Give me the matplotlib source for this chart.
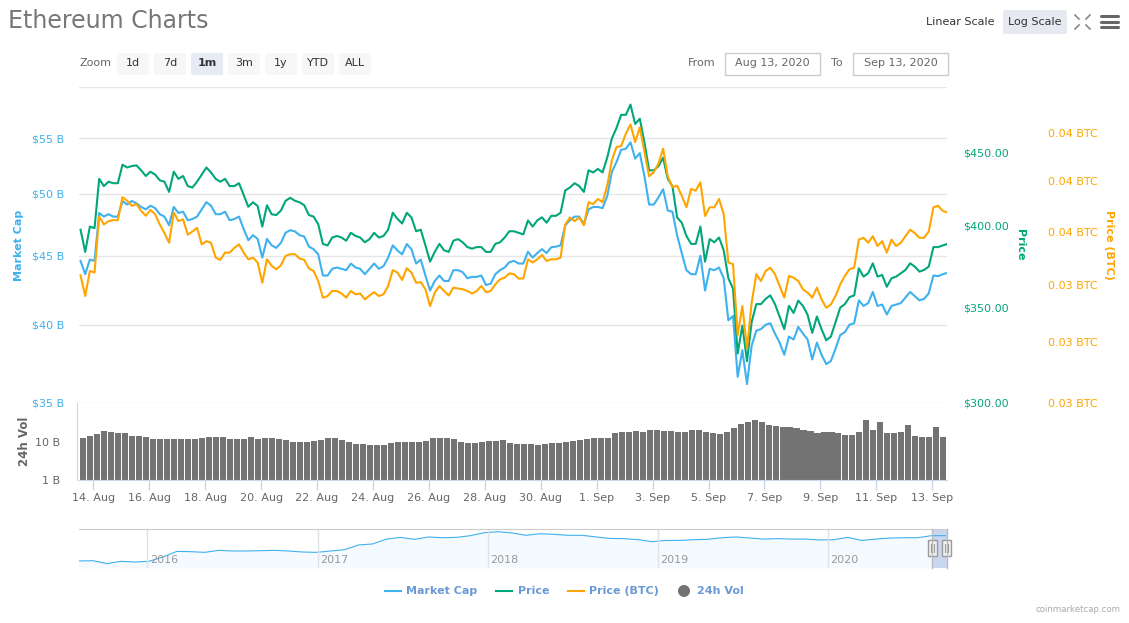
import pandas as pd
from matplotlib import pyplot as plt
from matplotlib.patches import Circle, FancyBboxPatch, Rectangle
from matplotlib.ticker import NullLocator

W, H = 1129, 623

market_cap = [
    44.6, 43.6, 44.7, 44.6, 48.4, 48.1, 48.3, 48.1, 48.1, 49.4,
    49.1, 49.4, 49.2, 48.9, 48.7, 49.0, 48.8, 48.3, 48.1, 47.4,
    48.9, 48.4, 48.5, 47.8, 47.9, 48.1, 48.7, 49.3, 49.0, 48.3,
    48.3, 48.5, 47.8, 47.9, 48.1, 47.1, 46.2, 46.6, 46.3, 44.85,
    46.3, 45.8, 45.6, 46.0, 46.8, 47.0, 46.9, 46.6, 46.5, 45.7,
    45.5, 45.1, 43.5, 43.5, 44.0, 44.1, 44.0, 43.9, 44.4, 44.1,
    44.0, 43.6, 44.0, 44.4, 44.0, 44.2, 44.85, 45.8, 45.4, 45.1,
    45.9, 45.5, 44.4, 44.7, 43.5, 42.4, 43.1, 43.5, 43.1, 43.1,
    43.9, 43.9, 43.75, 43.3, 43.4, 43.4, 43.5, 42.8, 42.9, 43.6,
    43.9, 44.1, 44.5, 44.6, 44.4, 44.4, 45.3, 44.85, 45.2, 45.5,
    45.2, 45.65, 45.7, 45.8, 47.4, 47.8, 48.1, 48.1, 47.5, 48.7,
    48.9, 48.9, 48.8, 49.8, 51.9, 52.8, 53.9, 54.0, 54.6, 53.1,
    53.6, 51.5, 49.1, 49.1, 49.7, 50.4, 48.6, 48.5, 46.6, 45.2,
    43.9, 43.6, 43.6, 45.0, 42.4, 44.0, 43.9, 44.1, 43.3, 40.3,
    40.6, 36.6, 38.3, 36.15, 38.6, 39.6, 39.7, 40.0, 40.1, 39.4,
    38.8, 38.0, 39.2, 39.0, 39.85, 39.4, 39.0, 37.7, 38.8, 38.0,
    37.4, 37.6, 38.4, 39.3, 39.5, 40.0, 40.1, 41.7, 41.3, 41.5,
    42.3, 41.3, 41.4, 40.7, 41.3, 41.4, 41.5, 41.9, 42.3, 42.0,
    41.7, 41.8, 42.2, 43.5, 43.45, 43.6, 43.7,
]
price = [
    397, 383, 399, 398, 431, 426, 429, 428, 428, 441,
    439, 440, 440.5, 437, 433, 436, 434, 430, 429, 422,
    436, 431, 433, 426, 425, 429, 434, 439, 435.5, 431,
    429, 431, 426, 426, 428, 420, 412, 415, 412.5, 399,
    413, 407, 406.5, 409.5, 416, 418, 416, 415, 413, 406.5,
    405.5, 400.5, 388, 387, 392, 393, 392, 390, 395, 393,
    392, 389, 391, 395, 392, 393, 397, 408, 404, 401,
    408, 405, 396, 397, 387, 377, 383, 388, 384, 383,
    390, 391, 389, 386, 385, 386, 386, 383, 383, 388,
    389, 392, 396, 396, 395, 394, 403, 399, 403, 405,
    401.5, 406, 406, 408, 423, 425, 428, 426, 422, 437,
    435.5, 438, 435.5, 446, 460, 468, 478, 478, 486, 471,
    475, 457, 437, 437, 440, 446, 431, 426, 405, 401.5,
    393, 388, 388, 399, 377, 391, 389, 392, 384, 367,
    361, 325, 340, 321, 342, 352, 352, 355, 357, 352,
    345, 338, 351, 347, 354, 351, 346, 336, 345, 338,
    332, 334, 342, 350, 352, 356, 357, 373, 368, 370,
    376, 368, 369, 362, 367, 368, 370, 372, 376, 374,
    371, 372, 374, 386, 386, 387, 388,
]
price_btc = [
    0.03437, 0.03362, 0.03453, 0.03447, 0.03659, 0.03628, 0.03641, 0.03645, 0.03645, 0.03735,
    0.03721, 0.03701, 0.03708, 0.03681, 0.03662, 0.03685, 0.03668, 0.03628, 0.03595, 0.03558,
    0.03675, 0.03641, 0.03648, 0.03589, 0.03601, 0.03615, 0.03552, 0.03564, 0.03558, 0.03502,
    0.03494, 0.03521, 0.03521, 0.03539, 0.03552, 0.03521, 0.03496, 0.03502, 0.03484, 0.03410,
    0.03496, 0.03472, 0.03459, 0.03474, 0.03509, 0.03515, 0.03515, 0.03499, 0.03494, 0.03462,
    0.03453, 0.03416, 0.03356, 0.03362, 0.03380, 0.03380, 0.03371, 0.03356, 0.03380, 0.03368,
    0.03371, 0.03350, 0.03364, 0.03376, 0.03362, 0.03368, 0.03398, 0.03456, 0.03447, 0.03420,
    0.03463, 0.03447, 0.03410, 0.03412, 0.03386, 0.03326, 0.03374, 0.03398, 0.03380, 0.03364,
    0.03392, 0.03389, 0.03386, 0.03380, 0.03371, 0.03380, 0.03398, 0.03376, 0.03380, 0.03404,
    0.03422, 0.03428, 0.03444, 0.03441, 0.03425, 0.03425, 0.03496, 0.03484, 0.03496, 0.03512,
    0.03490, 0.03496, 0.03496, 0.03502, 0.03628, 0.03655, 0.03641, 0.03655, 0.03625, 0.03715,
    0.03708, 0.03728, 0.03715, 0.03781, 0.03885, 0.03940, 0.03944, 0.03996, 0.04036, 0.03961,
    0.04023, 0.03920, 0.03819, 0.03836, 0.03871, 0.03933, 0.03819, 0.03775, 0.03781, 0.03741,
    0.03695, 0.03768, 0.03761, 0.03795, 0.03661, 0.03695, 0.03695, 0.03728, 0.03668, 0.03484,
    0.03478, 0.03225, 0.03326, 0.03180, 0.03338, 0.03441, 0.03416, 0.03453, 0.03465, 0.03441,
    0.03398, 0.03356, 0.03435, 0.03428, 0.03416, 0.03386, 0.03374, 0.03356, 0.03392, 0.03350,
    0.03320, 0.03332, 0.03362, 0.03404, 0.03435, 0.03459, 0.03465, 0.03570, 0.03577, 0.03558,
    0.03583, 0.03546, 0.03564, 0.03521, 0.03570, 0.03546, 0.03558, 0.03583, 0.03608, 0.03595,
    0.03577, 0.03577, 0.03601, 0.03695, 0.03701, 0.03681, 0.03675,
]
volume = [
    12.6, 13.9, 15.4, 18.7, 18.0, 16.6, 17.0, 13.9, 13.9, 13.1,
    11.9, 11.6, 11.4, 11.6, 11.6, 11.6, 11.4, 12.6, 12.8, 13.1,
    13.1, 11.9, 11.6, 11.6, 12.8, 11.6, 12.6, 12.6, 11.6, 11.2,
    9.9, 9.7, 9.7, 10.1, 10.9, 12.3, 12.1, 10.9, 9.9, 8.8,
    8.5, 8.1, 8.1, 8.1, 9.0, 9.7, 9.7, 9.9, 9.9, 10.5,
    12.3, 12.6, 12.3, 11.4, 9.7, 9.3, 9.1, 9.5, 10.3, 10.3,
    10.7, 9.1, 8.6, 8.6, 8.6, 8.3, 8.5, 9.0, 9.1, 9.9,
    10.5, 10.9, 11.9, 12.1, 12.1, 12.6, 16.3, 17.3, 18.0, 18.7,
    18.0, 19.5, 19.5, 18.7, 18.3, 17.7, 18.0, 19.5, 19.5, 17.7,
    17.0, 15.7, 17.3, 22.4, 28.5, 31.5, 35.5, 32.7, 26.9, 25.8,
    24.3, 23.3, 22.0, 20.3, 19.1, 16.6, 17.3, 17.7, 16.6, 14.8,
    14.8, 18.0, 36.2, 19.9, 31.5, 17.0, 17.0, 17.3, 26.9, 14.2,
    13.1, 13.4, 23.3, 13.1,
]
overview_cap = [
    0.089, 0.095, 0.047, 0.082, 0.069, 0.082, 0.234, 0.91, 0.85, 0.72,
    1.17, 1.0, 1.0, 1.08, 1.17, 1.0, 0.78, 0.72, 1.0, 1.38,
    4.3, 5.5, 18, 27, 17, 30, 25, 27, 41, 85,
    107, 78, 45, 66, 56, 45, 45, 30, 21, 20,
    15.5, 9.6, 13, 13, 15.5, 17, 25, 30, 23, 18,
    20, 18, 18, 14.5, 15.5, 27, 13, 18, 23, 25,
    25, 41, 41,
]

cap_ticks = [35, 40, 45, 50, 55, 60]
cap_labels = ["$35 B", "$40 B", "$45 B", "$50 B", "$55 B", ""]
price_ticks = [300, 350, 400, 450]
price_labels = ["$300.00", "$350.00", "$400.00", "$450.00"]
btc_ticks = [0.030, 0.032, 0.034, 0.036, 0.038, 0.040]
btc_labels = ["0.03 BTC", "0.03 BTC", "0.03 BTC", "0.04 BTC", "0.04 BTC", "0.04 BTC"]
vol_ticks = [1, 10]
vol_labels = ["1 B", "10 B"]
date_ticks = pd.to_datetime([
    "2020-08-14", "2020-08-16", "2020-08-18", "2020-08-20", "2020-08-22", "2020-08-24",
    "2020-08-26", "2020-08-28", "2020-08-30", "2020-09-01", "2020-09-03", "2020-09-05",
    "2020-09-07", "2020-09-09", "2020-09-11", "2020-09-13",
])
date_labels = ["14. Aug", "16. Aug", "18. Aug", "20. Aug", "22. Aug", "24. Aug",
               "26. Aug", "28. Aug", "30. Aug", "1. Sep", "3. Sep", "5. Sep",
               "7. Sep", "9. Sep", "11. Sep", "13. Sep"]
years = [2016, 2017, 2018, 2019, 2020]
zoom_buttons = ["1d", "7d", "1m", "3m", "1y", "YTD", "ALL"]

CAP = "#3eb1ee"
PRICE = "#01a67a"
BTC = "#ffa500"
GRID = "#e6e6e6"
AXIS = "#ccd6eb"
TEXT = "#666666"
LEGEND = "#6a9ad6"

plt.rcParams["font.family"] = ["DejaVu Sans"]

line_times = pd.date_range("2020-08-13 13:00", periods=len(market_cap), freq="4h")
bar_times = pd.date_range("2020-08-13 15:30", periods=len(volume), freq="6h")
overview_times = pd.date_range("2015-08-08", periods=len(overview_cap), freq="30D")
x_start = pd.Timestamp("2020-08-13 11:40")
x_end = pd.Timestamp("2020-09-13 13:00")


def add_axes(fig, left, top, right, bottom):
    return fig.add_axes([left / W, 1 - bottom / H, (right - left) / W, (bottom - top) / H])


fig = plt.figure(figsize=(W / 100, H / 100), dpi=100)

# main panel, three log axes on top of each other
ax = add_axes(fig, 79, 87, 947.4, 403)
ax2 = ax.twinx()
ax3 = ax.twinx()
ax.plot(line_times, market_cap, c=CAP, lw=1.5, zorder=3)
ax2.plot(line_times, price, c=PRICE, lw=1.5, zorder=3)
ax3.plot(line_times, price_btc, c=BTC, lw=1.5, zorder=3)

for a, lo, hi, ticks, labels, color, pad in [
    (ax, 35, 60, cap_ticks, cap_labels, CAP, 10.8),
    (ax2, 300, 500, price_ticks, price_labels, PRICE, 11.2),
    (ax3, 0.03, 0.042, btc_ticks, btc_labels, BTC, 72.4),
]:
    a.set_yscale("log")
    a.set_ylim(lo, hi)
    a.set_yticks(ticks)
    a.set_yticklabels(labels)
    a.yaxis.set_minor_locator(NullLocator())
    a.tick_params(axis="y", length=0, pad=pad, labelsize=8, labelcolor=color)
    a.patch.set_visible(False)
    for s in a.spines.values():
        s.set_visible(False)
ax.set_xlim(x_start, x_end)
ax.set_xticks([])
ax.grid(axis="y", color=GRID, lw=1)
ax.set_axisbelow(True)

# volume panel
vol = add_axes(fig, 79, 403, 947.4, 480)
vol.bar(bar_times, volume, width=5.2 / 24, color="#737373", log=True)
vol.set_yscale("log")
vol.set_ylim(1, 100)
vol.set_xlim(x_start, x_end)
vol.set_yticks(vol_ticks)
vol.set_yticklabels(vol_labels)
vol.yaxis.set_minor_locator(NullLocator())
vol.tick_params(axis="y", length=0, pad=12, labelsize=8, labelcolor=TEXT)
vol.set_xticks(date_ticks)
vol.set_xticklabels(date_labels)
vol.tick_params(axis="x", length=7.2, width=1, color=AXIS, pad=2, labelsize=8, labelcolor=TEXT)
vol.patch.set_visible(False)
vol.spines["top"].set_visible(False)
vol.spines["right"].set_visible(False)
vol.spines["bottom"].set_color(AXIS)
vol.spines["left"].set_color(AXIS)
vol.spines["left"].set_position(("outward", 1.7))

# overview panel
nav = add_axes(fig, 79, 529, 947, 568)
nav.fill_between(overview_times, overview_cap, 0.0162, color="#f5fafe", lw=0)
nav.plot(overview_times, overview_cap, c=CAP, lw=0.8)
nav.set_yscale("log")
nav.set_ylim(0.0162, 207)
nav.set_xlim(pd.Timestamp("2015-08-08"), pd.Timestamp("2020-09-13"))
nav.set_xticks([])
nav.set_yticks([])
nav.yaxis.set_minor_locator(NullLocator())
for s in ["left", "right", "bottom"]:
    nav.spines[s].set_visible(False)
nav.spines["top"].set_color("#cccccc")
for y in years:
    t = pd.Timestamp(f"{y}-01-01")
    nav.axvline(t, color="#dfe3e8", lw=1)
    nav.annotate(str(y), (t, 0), xycoords=("data", "axes fraction"), xytext=(2, 3.5),
                 textcoords="offset points", fontsize=8, color="#999999")
nav.axvspan(pd.Timestamp("2020-08-13"), pd.Timestamp("2020-09-13"), color="#c9d6ef", lw=0)

# page furniture in pixel coordinates
ui = fig.add_axes([0, 0, 1, 1])
ui.set_xlim(0, W)
ui.set_ylim(H, 0)
ui.axis("off")
ui.patch.set_visible(False)


def button(x0, y0, x1, y1, color):
    ui.add_patch(FancyBboxPatch((x0 + 2, y0 + 2), x1 - x0 - 4, y1 - y0 - 4,
                                boxstyle="round,pad=2", fc=color, ec="none"))


ui.text(8, 21, "Ethereum Charts", fontsize=17, color="#777777", va="center")
ui.text(79, 63.5, "Zoom", fontsize=8, color=TEXT, va="center")
for i, label in enumerate(zoom_buttons):
    x0 = 117 + i * 37
    active = label == "1m"
    button(x0, 53, x0 + 32, 75, "#e6ebf5" if active else "#f7f7f7")
    ui.text(x0 + 16, 63, label, fontsize=8, color="#333333", ha="center", va="center",
            fontweight="bold" if active else "normal")

ui.text(926, 22, "Linear Scale", fontsize=8, color="#333333", va="center")
button(1003, 10, 1067, 34, "#e6e9ef")
ui.text(1035, 22, "Log Scale", fontsize=8, color="#333333", ha="center", va="center")
for x0, y0, x1, y1 in [(1075, 15, 1079, 19), (1090, 15, 1086, 19), (1075, 29, 1079, 25), (1090, 29, 1086, 25)]:
    ui.plot([x0, x1], [y0, y1], c="#888888", lw=1.2)
for y in [16, 21.5, 27]:
    ui.plot([1101, 1118], [y, y], c="#666666", lw=2.2, solid_capstyle="round")

ui.text(688, 63, "From", fontsize=8, color=TEXT, va="center")
ui.text(831, 63, "To", fontsize=8, color=TEXT, va="center")
for x0, x1, label in [(725, 820, "Aug 13, 2020"), (853, 948, "Sep 13, 2020")]:
    ui.add_patch(Rectangle((x0, 53), x1 - x0, 22, fc="white", ec="#cccccc", lw=1))
    ui.text((x0 + x1) / 2, 63.5, label, fontsize=8, color=TEXT, ha="center", va="center")

ui.text(19, 245, "Market Cap", fontsize=8, color=CAP, rotation=90, ha="center", va="center", fontweight="bold")
ui.text(1020, 245, "Price", fontsize=8, color=PRICE, rotation=270, ha="center", va="center", fontweight="bold")
ui.text(1109, 245, "Price (BTC)", fontsize=8, color=BTC, rotation=270, ha="center", va="center", fontweight="bold")
ui.text(24, 441, "24h Vol", fontsize=8.5, color=TEXT, rotation=90, ha="center", va="center", fontweight="bold")

for x0 in [932, 946.5]:
    ui.plot([x0, x0], [529, 568], c="#bbbbbb", lw=1)
for x0 in [928, 942]:
    ui.add_patch(Rectangle((x0, 540), 8.5, 15.5, fc="#f2f2f2", ec="#999999", lw=1))
    ui.plot([x0 + 3, x0 + 3], [544, 552], c="#999999", lw=0.8)
    ui.plot([x0 + 5.5, x0 + 5.5], [544, 552], c="#999999", lw=0.8)

for x0, x1, color in [(385, 401, CAP), (496, 512, PRICE), (567.5, 583.5, BTC)]:
    ui.plot([x0, x1], [591, 591], c=color, lw=1.5)
ui.add_patch(Circle((684, 591), 6, fc="#737373", ec="none"))
for x0, label in [(406.5, "Market Cap"), (518, "Price"), (589, "Price (BTC)"), (697, "24h Vol")]:
    ui.text(x0, 591, label, fontsize=8, color=LEGEND, va="center", fontweight="bold")
ui.text(1120, 610, "coinmarketcap.com", fontsize=6.2, color="#aaaaaa", ha="right", va="center")

plt.savefig("out.png", dpi=100)
